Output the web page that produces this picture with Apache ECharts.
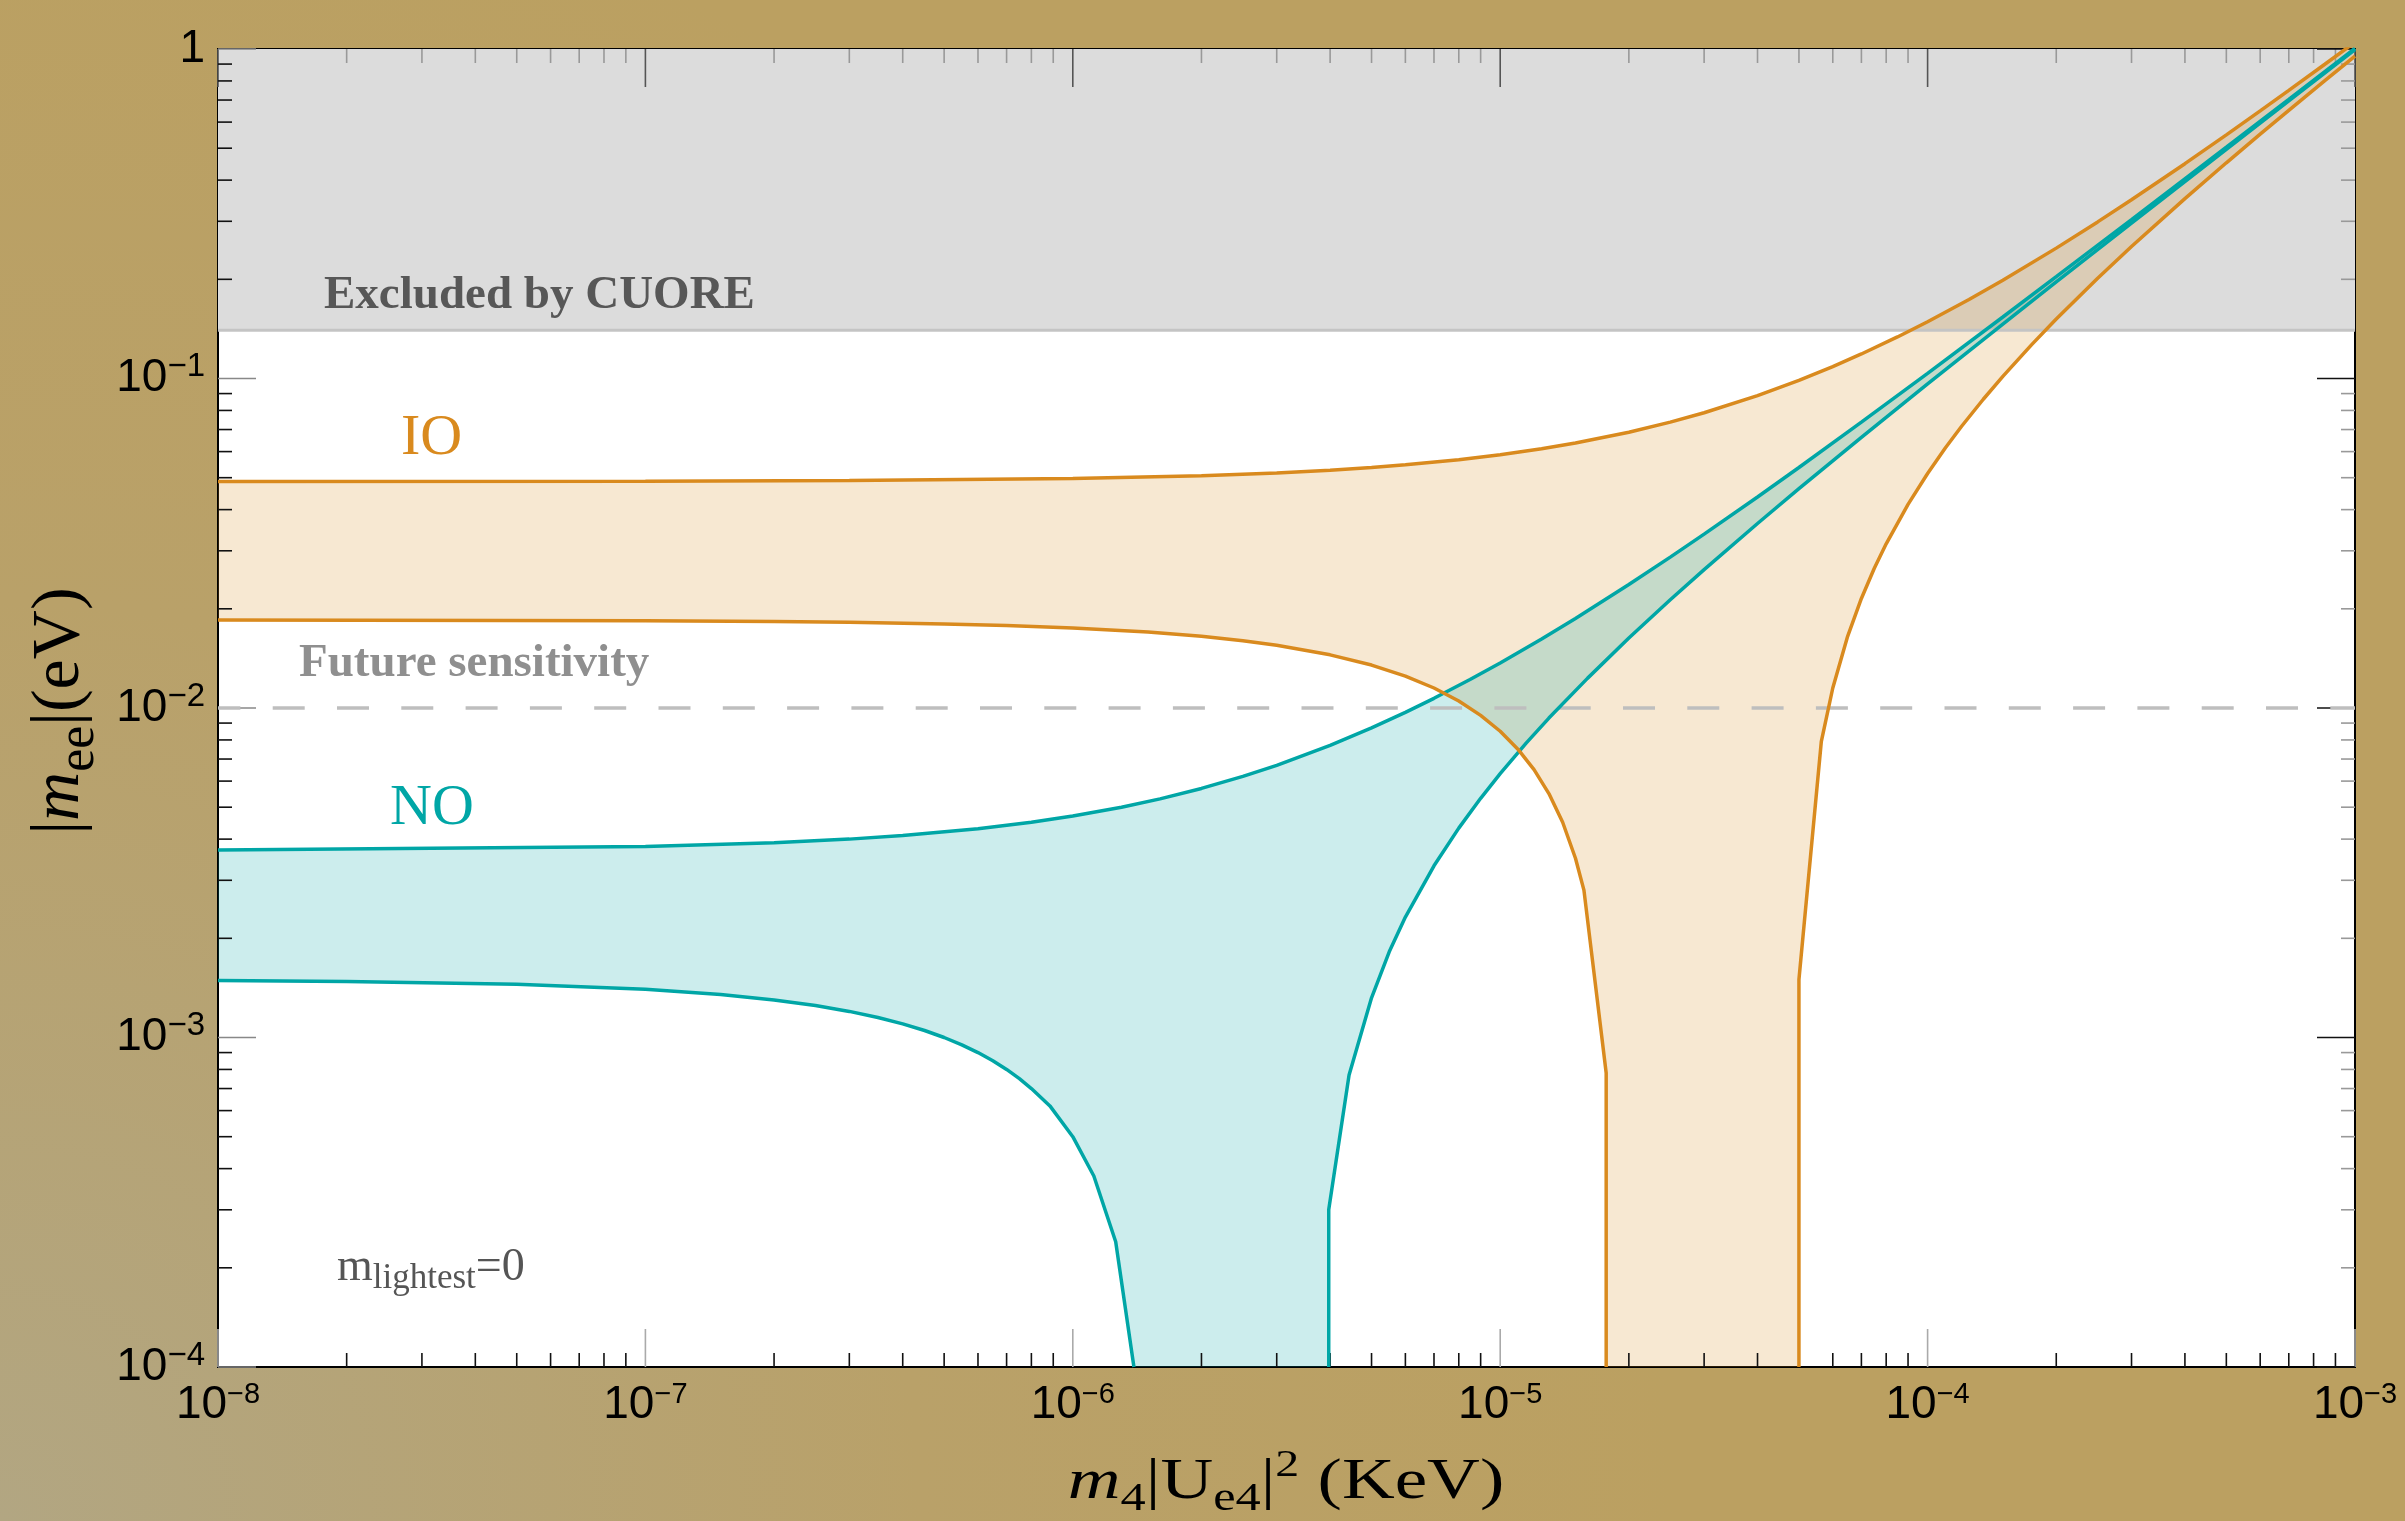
<!DOCTYPE html>
<html>
<head>
<meta charset="utf-8">
<script src="https://cdn.jsdelivr.net/npm/echarts@6/dist/echarts.min.js"></script>
<style>
html,body{margin:0;padding:0;background:#BAA063;}
#c{width:2405px;height:1521px;}
</style>
</head>
<body>
<div id="c"></div>
<script>
// ---------------- data ----------------
const X_MIN = 1e-8, X_MAX = 1e-3;
const Y_MIN = 1e-4, Y_MAX = 1;

// tick labels (exponents of 10)
const xTickExp = ['\u22128', '\u22127', '\u22126', '\u22125', '\u22124', '\u22123'];
const yTickExp = ['\u22124', '\u22123', '\u22122', '\u22121', '0'];
const xMajorTicks = [1e-8, 1e-7, 1e-6, 1e-5, 1e-4, 1e-3];
const yMajorTicks = [1e-4, 1e-3, 1e-2, 1e-1, 1];
const minorMultipliers = [2, 3, 4, 5, 6, 7, 8, 9];

// CUORE exclusion limit and future sensitivity (eV)
const cuoreLimit = 0.14;
const futureSensitivity = 0.01;

// IO band boundaries  [m4|Ue4|^2 (KeV), |m_ee| (eV)]
const ioUpper = [[1e-8,0.0487],[1e-7,0.0488],[3e-7,0.0490],[1e-6,0.0497],[2e-6,0.0507],[3e-6,0.0517],
  [4e-6,0.0527],[5e-6,0.0537],[6e-6,0.0547],[8e-6,0.0567],[1e-5,0.0587],[1.25e-5,0.0612],[1.5e-5,0.0637],
  [2e-5,0.0687],[2.5e-5,0.0737],[3e-5,0.0787],[4e-5,0.0887],[5e-5,0.0987],[6e-5,0.1087],[7e-5,0.1187],
  [8.5e-5,0.1337],[1e-4,0.1487],[1.25e-4,0.1737],[1.5e-4,0.1987],[2e-4,0.2487],[2.5e-4,0.2987],
  [3e-4,0.3487],[4e-4,0.4487],[5e-4,0.5487],[6e-4,0.6487],[7e-4,0.7487],[8.5e-4,0.8987],[1e-3,1.0487]];
const ioLowerLeft = [[1e-8,0.0185],[1e-7,0.0184],[2e-7,0.0183],[3e-7,0.0182],[5e-7,0.0180],[7e-7,0.0178],
  [1e-6,0.0175],[1.5e-6,0.0170],[2e-6,0.0165],[2.5e-6,0.0160],[3e-6,0.0155],[4e-6,0.0145],[5e-6,0.0135],
  [6e-6,0.0125],[7e-6,0.0115],[8e-6,0.0105],[9e-6,0.0095],[1e-5,0.0085],[1.1e-5,0.0075],[1.2e-5,0.0065],
  [1.3e-5,0.0055],[1.4e-5,0.0045],[1.5e-5,0.0035],[1.57e-5,0.0028],[1.77e-5,0.00078],[1.77e-5,0.0001]];
const ioLowerRight = [[5.0e-5,0.0001],[5.0e-5,0.0015],[5.64e-5,0.0079],[6e-5,0.0115],[6.5e-5,0.0165],
  [7e-5,0.0215],[7.5e-5,0.0265],[8e-5,0.0315],[9e-5,0.0415],[1e-4,0.0515],[1.1e-4,0.0615],[1.2e-4,0.0715],
  [1.35e-4,0.0865],[1.5e-4,0.1015],[1.75e-4,0.1265],[2e-4,0.1515],[2.5e-4,0.2015],[3e-4,0.2515],
  [4e-4,0.3515],[5e-4,0.4515],[6e-4,0.5515],[7e-4,0.6515],[8.5e-4,0.8015],[1e-3,0.9515]];

// NO band boundaries
const noUpper = [[1e-8,0.00371],[1e-7,0.0038],[2e-7,0.0039],[3e-7,0.0040],[4e-7,0.0041],[6e-7,0.0043],
  [8e-7,0.0045],[1e-6,0.0047],[1.3e-6,0.0050],[1.6e-6,0.0053],[2e-6,0.0057],[2.5e-6,0.0062],[3e-6,0.0067],
  [4e-6,0.0077],[5e-6,0.0087],[6e-6,0.0097],[7e-6,0.0107],[8.5e-6,0.0122],[1e-5,0.0137],[1.25e-5,0.0162],
  [1.5e-5,0.0187],[2e-5,0.0237],[2.5e-5,0.0287],[3e-5,0.0337],[4e-5,0.0437],[5e-5,0.0537],[7e-5,0.0737],
  [1e-4,0.1037],[1.5e-4,0.1537],[2e-4,0.2037],[3e-4,0.3037],[5e-4,0.5037],[7e-4,0.7037],[1e-3,1.0037]];
const noLowerLeft = [[1e-8,0.00149],[2e-8,0.00148],[5e-8,0.00145],[1e-7,0.0014],[1.5e-7,0.00135],
  [2e-7,0.0013],[2.5e-7,0.00125],[3e-7,0.0012],[3.5e-7,0.00115],[4e-7,0.0011],[4.5e-7,0.00105],
  [5e-7,0.0010],[5.5e-7,0.00095],[6e-7,0.0009],[6.5e-7,0.00085],[7e-7,0.0008],[7.5e-7,0.00075],
  [8e-7,0.0007],[8.84e-7,0.00062],[1e-6,0.0005],[1.12e-6,0.00038],[1.26e-6,0.00024],[1.39e-6,0.0001]];
const noLowerRight = [[3.97e-6,0.0001],[3.97e-6,0.0003],[4.43e-6,0.00077],[5e-6,0.00132],[5.5e-6,0.00182],
  [6e-6,0.00232],[7e-6,0.00332],[8e-6,0.00432],[9e-6,0.00532],[1e-5,0.00632],[1.15e-5,0.00782],
  [1.3e-5,0.00932],[1.6e-5,0.0123],[2e-5,0.0163],[2.5e-5,0.0213],[3e-5,0.0263],[4e-5,0.0363],
  [5e-5,0.0463],[7e-5,0.0663],[1e-4,0.0963],[1.5e-4,0.1463],[2e-4,0.1963],[3e-4,0.2963],[5e-4,0.4963],
  [7e-4,0.6963],[1e-3,0.9963]];

// ---------------- styles ----------------
const ORANGE = '#D98A1E';
const TEAL = '#00A6A6';
const IO_FILL = 'rgba(217,138,30,0.2)';
const NO_FILL = 'rgba(0,166,166,0.2)';
const SERIF = '"Liberation Serif","Times New Roman",serif';
const SANS = '"Liberation Sans",Arial,sans-serif';

// polygons built from the boundary arrays
const ioBand = ioUpper.concat(ioLowerRight.slice().reverse(), ioLowerLeft.slice().reverse());
const noBand = noUpper.concat(noLowerRight.slice().reverse(), noLowerLeft.slice().reverse());
const cuoreRegion = [[X_MIN, cuoreLimit], [X_MAX, cuoreLimit], [X_MAX, Y_MAX], [X_MIN, Y_MAX]];

// tick lists
const xMinorTicks = [], yMinorTicks = [];
xMajorTicks.slice(0, -1).forEach(d => minorMultipliers.forEach(m => xMinorTicks.push(d * m)));
yMajorTicks.slice(0, -1).forEach(d => minorMultipliers.forEach(m => yMinorTicks.push(d * m)));

const MAJOR_LEN = 38, MINOR_LEN = 14;

function polygonSeries(pts, fill) {
  return {
    type: 'custom', silent: true, clip: true,
    data: [pts[0]],
    renderItem: function (params, api) {
      return {
        type: 'polygon',
        shape: { points: pts.map(p => api.coord(p)) },
        style: { fill: fill }
      };
    }
  };
}
function lineSeries(pts, color, width, type) {
  return {
    type: 'line', data: pts, showSymbol: false, silent: true, clip: true,
    lineStyle: { color: color, width: width, type: type || 'solid', dashOffset: 9.6, cap: 'butt' }
  };
}

const xTickData = xMajorTicks.map(v => [v, Y_MIN, 0]).concat(xMinorTicks.map(v => [v, Y_MIN, 1]));
const yTickData = yMajorTicks.map(v => [X_MIN, v, 0]).concat(yMinorTicks.map(v => [X_MIN, v, 1]));

const xTickSeries = {
  type: 'custom', silent: true, data: xTickData,
  renderItem: function (params, api) {
    const v = api.value(0), kind = api.value(2);
    const b = api.coord([v, Y_MIN]), t = api.coord([v, Y_MAX]);
    const len = kind === 0 ? MAJOR_LEN : MINOR_LEN;
    return { type: 'group', children: [
      { type: 'line', shape: { x1: b[0], y1: b[1], x2: b[0], y2: b[1] - len },
        style: { stroke: kind === 0 ? '#AAAAAA' : '#111', lineWidth: 1.6 } },
      { type: 'line', shape: { x1: t[0], y1: t[1], x2: t[0], y2: t[1] + len },
        style: { stroke: kind === 0 ? '#555' : '#999', lineWidth: 1.6 } }
    ]};
  }
};
const yTickSeries = {
  type: 'custom', silent: true, data: yTickData,
  renderItem: function (params, api) {
    const v = api.value(1), kind = api.value(2);
    const l = api.coord([X_MIN, v]), r = api.coord([X_MAX, v]);
    const len = kind === 0 ? MAJOR_LEN : MINOR_LEN;
    return { type: 'group', children: [
      { type: 'line', shape: { x1: l[0], y1: l[1], x2: l[0] + len, y2: l[1] },
        style: { stroke: kind === 0 ? '#888' : '#111', lineWidth: 1.6 } },
      { type: 'line', shape: { x1: r[0], y1: r[1], x2: r[0] - len, y2: r[1] },
        style: { stroke: kind === 0 ? '#111' : '#999', lineWidth: 1.6 } }
    ]};
  }
};

const chart = echarts.init(document.getElementById('c'), null, { renderer: 'canvas', width: 2405, height: 1521 });

const option = {
  animation: false,
  backgroundColor: {
    type: 'radial', x: 0, y: 1, r: 1.1,
    colorStops: [{ offset: 0, color: '#B2A682' }, { offset: 0.55, color: '#B9A169' }, { offset: 1, color: '#BBA061' }]
  },
  grid: { left: 218, top: 49, width: 2137, height: 1318, show: true, backgroundColor: '#fff',
          borderColor: '#000', borderWidth: 2, outerBoundsMode: 'none', containLabel: false },
  xAxis: {
    type: 'log', logBase: 10, min: X_MIN, max: X_MAX,
    axisLine: { show: false }, axisTick: { show: false }, splitLine: { show: false }, minorTick: { show: false },
    axisLabel: {
      margin: 13,
      formatter: function (v) {
        const i = Math.round(Math.log10(v)) + 8;
        return '{b|10}{s|' + xTickExp[i] + '}';
      },
      rich: {
        b: { fontFamily: SANS, fontSize: 46, lineHeight: 50, color: '#000' },
        s: { fontFamily: SANS, fontSize: 29, lineHeight: 28, verticalAlign: 'top', color: '#000' }
      }
    }
  },
  yAxis: {
    type: 'log', logBase: 10, min: Y_MIN, max: Y_MAX,
    axisLine: { show: false }, axisTick: { show: false }, splitLine: { show: false }, minorTick: { show: false },
    axisLabel: {
      margin: 13,
      formatter: function (v) {
        const i = Math.round(Math.log10(v)) + 4;
        const e = yTickExp[i];
        return e === '0' ? '{b|1}' : '{b|10}{s|' + e + '}';
      },
      rich: {
        b: { fontFamily: SANS, fontSize: 46, lineHeight: 56, color: '#000' },
        s: { fontFamily: SANS, fontSize: 33, lineHeight: 32, verticalAlign: 'top', color: '#000' }
      }
    }
  },
  series: [
    polygonSeries(cuoreRegion, '#DCDCDC'),
    lineSeries([[X_MIN, cuoreLimit], [X_MAX, cuoreLimit]], '#C4C4C4', 3),
    polygonSeries(ioBand, IO_FILL),
    polygonSeries(noBand, NO_FILL),
    lineSeries([[X_MIN, futureSensitivity], [X_MAX, futureSensitivity]], '#BEBEBE', 3.3, [32, 32.3]),
    lineSeries(noUpper, TEAL, 3.5),
    lineSeries(noLowerLeft, TEAL, 3.5),
    lineSeries(noLowerRight, TEAL, 3.5),
    lineSeries(ioUpper, ORANGE, 3.5),
    lineSeries(ioLowerLeft, ORANGE, 3.5),
    lineSeries(ioLowerRight, ORANGE, 3.5),
    xTickSeries,
    yTickSeries
  ],
  graphic: [
    { type: 'text', x: 324, y: 296, z: 100, silent: true,
      style: { text: 'Excluded by CUORE', font: 'bold 47px ' + SERIF, fill: '#575757', align: 'left', verticalAlign: 'middle' } },
    { type: 'text', x: 299, y: 664, z: 100, silent: true,
      style: { text: 'Future sensitivity', font: 'bold 47px ' + SERIF, fill: '#8F8F8F', align: 'left', verticalAlign: 'middle' } },
    { type: 'text', x: 401, y: 439, z: 100, silent: true,
      style: { text: 'IO', font: '58px ' + SERIF, fill: ORANGE, align: 'left', verticalAlign: 'middle' } },
    { type: 'text', x: 390, y: 809, z: 100, silent: true,
      style: { text: 'NO', font: '58px ' + SERIF, fill: TEAL, align: 'left', verticalAlign: 'middle' } },
    { type: 'text', x: 337, y: 1268, z: 100, silent: true,
      style: { text: '{m|m}{sub|lightest}{m|=0}', align: 'left', verticalAlign: 'middle',
        rich: {
          m: { fontFamily: SERIF, fontSize: 46, lineHeight: 56, fill: '#555', color: '#555' },
          sub: { fontFamily: SERIF, fontSize: 35, lineHeight: 35, verticalAlign: 'bottom', fill: '#555', color: '#555' }
        } } },
    // x axis title
    { type: 'text', x: 1286, y: 1483, z: 100, silent: true, scaleX: 1.26,
      style: { text: '{i|m}{sub|4}{n||U}{sub|e4}{n||}{sup|2}{n| (KeV)}', align: 'center', verticalAlign: 'middle',
        rich: {
          i: { fontFamily: SERIF, fontStyle: 'italic', fontSize: 58, lineHeight: 72, fill: '#000' },
          n: { fontFamily: SERIF, fontSize: 58, lineHeight: 72, fill: '#000' },
          sub: { fontFamily: SERIF, fontSize: 40, lineHeight: 40, verticalAlign: 'bottom', fill: '#000' },
          sup: { fontFamily: SERIF, fontSize: 38, lineHeight: 20, verticalAlign: 'top', fill: '#000' }
        } } },
    // y axis title
    { type: 'text', x: 60, y: 711, z: 100, silent: true, rotation: Math.PI / 2,
      style: { text: '{n||}{i|m}{sub|ee}{n||(eV)}', align: 'center', verticalAlign: 'middle',
        rich: {
          i: { fontFamily: SERIF, fontStyle: 'italic', fontSize: 68, lineHeight: 90, fill: '#000' },
          n: { fontFamily: SERIF, fontSize: 68, lineHeight: 90, fill: '#000' },
          sub: { fontFamily: SERIF, fontSize: 52, lineHeight: 52, verticalAlign: 'bottom', fill: '#000' }
        } } }
  ]
};
chart.setOption(option);
</script>
</body>
</html>
